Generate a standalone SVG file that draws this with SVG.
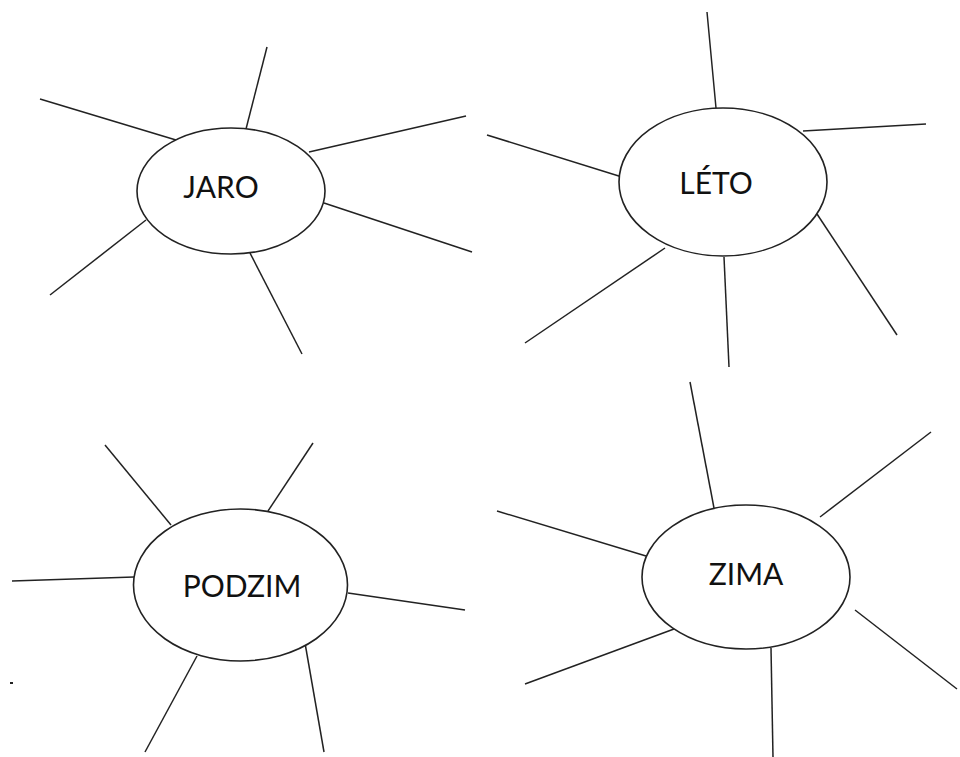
<svg xmlns="http://www.w3.org/2000/svg" width="960" height="757" viewBox="0 0 960 757">
<style>
.e{fill:#fff;stroke:#222;stroke-width:1.6}
.c line{stroke:#222;stroke-width:1.5}
.t{font-family:Lato,"Open Sans",sans-serif;font-size:30px;fill:#111;text-anchor:middle}
</style>
<rect width="960" height="757" fill="#fff"/>
<g id="connectors" class="c">
<line x1="40" y1="99" x2="176" y2="140"/>
<line x1="267" y1="47" x2="246" y2="129"/>
<line x1="309" y1="152" x2="466" y2="116"/>
<line x1="324" y1="203" x2="472" y2="252"/>
<line x1="50" y1="295" x2="146" y2="220"/>
<line x1="250" y1="253" x2="302" y2="354"/>
<line x1="707" y1="12" x2="716" y2="108"/>
<line x1="803" y1="131" x2="926" y2="124"/>
<line x1="487" y1="135" x2="622" y2="177"/>
<line x1="525" y1="343" x2="665" y2="248"/>
<line x1="724" y1="257" x2="729" y2="367"/>
<line x1="817" y1="214" x2="897" y2="335"/>
<line x1="105" y1="445" x2="171" y2="525"/>
<line x1="313" y1="443" x2="268" y2="511"/>
<line x1="12" y1="581" x2="134" y2="577"/>
<line x1="348" y1="593" x2="465" y2="610"/>
<line x1="197" y1="656" x2="145" y2="752"/>
<line x1="305" y1="643" x2="324" y2="752"/>
<line x1="690" y1="382" x2="714" y2="508"/>
<line x1="820" y1="517" x2="931" y2="432"/>
<line x1="497" y1="511" x2="646" y2="556"/>
<line x1="525" y1="684" x2="674" y2="629"/>
<line x1="771" y1="648" x2="773" y2="757"/>
<line x1="855" y1="610" x2="957" y2="689"/>
</g>
<g id="jaro"><ellipse class="e" cx="231" cy="191" rx="94" ry="63"/><text class="t" x="221" y="198">JARO</text></g>
<g id="leto"><ellipse class="e" cx="723" cy="182" rx="104" ry="74"/><text class="t" x="716" y="194">LÉTO</text></g>
<g id="podzim"><ellipse class="e" cx="240.5" cy="585" rx="107" ry="76"/><text class="t" x="242" y="597">PODZIM</text></g>
<g id="zima"><ellipse class="e" cx="746" cy="577" rx="104" ry="72"/><text class="t" x="746" y="585">ZIMA</text></g>
<rect x="10" y="682" width="3" height="2" fill="#222"/>
</svg>
